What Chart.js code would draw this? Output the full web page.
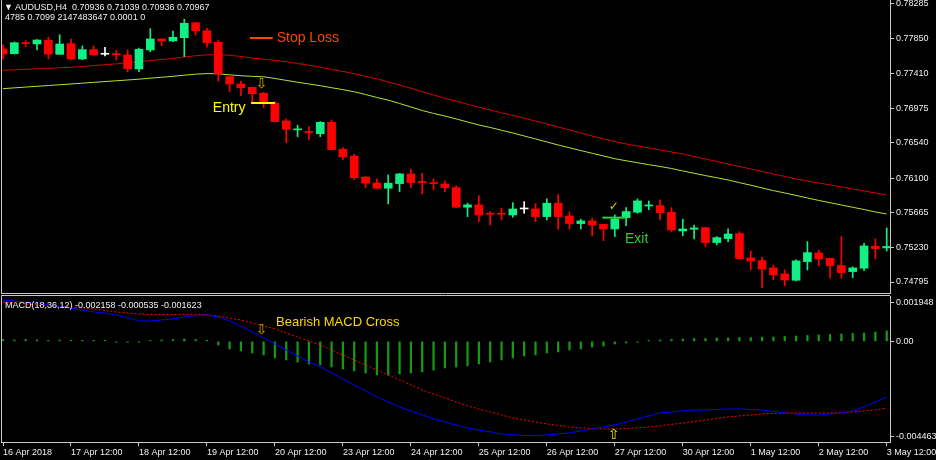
<!DOCTYPE html>
<html><head><meta charset="utf-8">
<script src="https://cdn.jsdelivr.net/npm/chart.js@4.4.1/dist/chart.umd.min.js"></script>
<style>
html,body{margin:0;padding:0;background:#000;width:936px;height:460px;overflow:hidden}
#wrap{position:relative;width:936px;height:460px;background:#000}
canvas{position:absolute;left:0}
#cA{top:0}
#cB{top:294px}
.hdr{position:absolute;color:#f0f0f0;font:9px "Liberation Sans",Arial,sans-serif;white-space:pre;line-height:11px}
</style></head>
<body><div id="wrap">
<canvas id="cA" width="936" height="294"></canvas>
<canvas id="cB" width="936" height="166"></canvas>
<div class="hdr" style="left:4px;top:2px">▼ AUDUSD,H4  0.70936 0.71039 0.70936 0.70967</div>
<div class="hdr" style="left:5px;top:12px">4785 0.7099 2147483647 0.0001 0</div>
<div class="hdr" style="left:5px;top:300px">MACD(18,36,12) -0.002158 -0.000535 -0.001623</div>
</div>
<script>
// ---------- DATA ----------
const bars = Array.from({length:79},(_, i)=>i);
const opens = [0.77721,0.77661,0.77795,0.77783,0.77829,0.77653,0.77787,0.77595,0.77712,0.77654,
0.77655,0.77645,0.77469,0.77708,0.77846,0.77821,0.77862,0.78050,0.77950,0.77804,
0.77373,0.77281,0.77240,0.77164,0.77039,0.76817,0.76705,0.76679,0.76657,0.76800,
0.76462,0.76374,0.76114,0.76039,0.75972,0.76030,0.76152,0.76051,0.76039,0.76026,
0.75980,0.75734,0.75763,0.75652,0.75652,0.75637,0.75712,0.75712,0.75616,0.75784,
0.75624,0.75528,0.75562,0.75520,0.75461,0.75603,0.75671,0.75750,0.75754,0.75671,
0.75436,0.75457,0.75478,0.75290,0.75340,0.75403,0.75097,0.75063,0.74972,0.74896,
0.74817,0.75051,0.75160,0.75093,0.75001,0.74926,0.74968,0.75244,0.75223];
const highs = [0.77771,0.77808,0.77824,0.77839,0.77867,0.77900,0.77846,0.77758,0.77758,0.77742,
0.77699,0.77708,0.77733,0.77975,0.77846,0.77946,0.78093,0.78050,0.77980,0.77833,
0.77373,0.77316,0.77240,0.77177,0.77059,0.76842,0.76763,0.76745,0.76808,0.76829,
0.76482,0.76399,0.76114,0.76089,0.76139,0.76158,0.76214,0.76160,0.76089,0.76064,
0.76005,0.75784,0.75876,0.75679,0.75721,0.75791,0.75804,0.75778,0.75838,0.75892,
0.75675,0.75583,0.75595,0.75520,0.75637,0.75729,0.75838,0.75813,0.75825,0.75729,
0.75583,0.75511,0.75478,0.75365,0.75461,0.75428,0.75185,0.75106,0.75006,0.74947,
0.75072,0.75302,0.75194,0.75093,0.75365,0.74985,0.75282,0.75336,0.75474];
const lows = [0.77595,0.77657,0.77749,0.77708,0.77595,0.77651,0.77582,0.77586,0.77641,0.77632,
0.77582,0.77435,0.77435,0.77686,0.77762,0.77812,0.77624,0.77896,0.77742,0.77319,
0.77184,0.77134,0.77039,0.76984,0.76804,0.76544,0.76620,0.76578,0.76620,0.76453,
0.76327,0.76080,0.75980,0.75963,0.75775,0.75930,0.75980,0.75901,0.75951,0.75930,
0.75729,0.75616,0.75553,0.75511,0.75574,0.75608,0.75658,0.75553,0.75574,0.75458,
0.75461,0.75461,0.75373,0.75314,0.75365,0.75503,0.75658,0.75704,0.75574,0.75428,
0.75377,0.75336,0.75239,0.75261,0.75302,0.75085,0.74947,0.74725,0.74821,0.74746,
0.74809,0.74947,0.74997,0.74842,0.74842,0.74850,0.74938,0.75085,0.75185];
const closes = [0.77657,0.77799,0.77788,0.77833,0.77657,0.77783,0.77595,0.77712,0.77645,0.77654,
0.77649,0.77473,0.77717,0.77846,0.77821,0.77867,0.78043,0.77950,0.77799,0.77407,
0.77281,0.77235,0.77159,0.77043,0.76808,0.76713,0.76710,0.76671,0.76800,0.76457,
0.76365,0.76105,0.76035,0.75972,0.76035,0.76152,0.76043,0.76044,0.76031,0.75980,
0.75734,0.75763,0.75637,0.75646,0.75646,0.75712,0.75712,0.75616,0.75784,0.75616,
0.75528,0.75562,0.75511,0.75461,0.75587,0.75679,0.75813,0.75756,0.75666,0.75449,
0.75461,0.75474,0.75290,0.75352,0.75398,0.75089,0.75060,0.74959,0.74884,0.74821,
0.75060,0.75164,0.75085,0.75001,0.74913,0.74972,0.75248,0.75214,0.75241];
const maRed = [0.77453,0.77459,0.77465,0.77472,0.77478,0.77484,0.77490,0.77500,0.77512,0.77523,
0.77534,0.77547,0.77559,0.77575,0.77588,0.77603,0.77620,0.77635,0.77647,0.77651,
0.77641,0.77626,0.77607,0.77591,0.77578,0.77559,0.77538,0.77516,0.77492,0.77463,
0.77438,0.77409,0.77377,0.77346,0.77306,0.77268,0.77227,0.77184,0.77143,0.77101,
0.77064,0.77026,0.76990,0.76955,0.76919,0.76886,0.76850,0.76816,0.76779,0.76741,
0.76704,0.76666,0.76628,0.76591,0.76559,0.76528,0.76503,0.76478,0.76453,0.76427,
0.76402,0.76371,0.76340,0.76308,0.76277,0.76245,0.76214,0.76183,0.76151,0.76120,
0.76089,0.76063,0.76038,0.76013,0.75988,0.75963,0.75938,0.75913,0.75888];
const maGreen = [0.77222,0.77232,0.77242,0.77252,0.77261,0.77271,0.77281,0.77291,0.77301,0.77311,
0.77321,0.77331,0.77341,0.77354,0.77365,0.77377,0.77391,0.77404,0.77411,0.77409,
0.77396,0.77384,0.77377,0.77371,0.77350,0.77326,0.77303,0.77281,0.77259,0.77234,
0.77210,0.77182,0.77149,0.77111,0.77078,0.77036,0.76992,0.76948,0.76911,0.76879,
0.76842,0.76804,0.76766,0.76735,0.76700,0.76666,0.76628,0.76591,0.76553,0.76515,
0.76480,0.76445,0.76411,0.76377,0.76343,0.76317,0.76292,0.76268,0.76245,0.76220,
0.76189,0.76160,0.76131,0.76104,0.76076,0.76042,0.76010,0.75976,0.75942,0.75913,
0.75882,0.75850,0.75819,0.75790,0.75762,0.75733,0.75705,0.75674,0.75649];
const macdHist = [0.000083,0.000061,0.000083,0.000061,0.000040,0.000061,0.000040,0.000018,0.000040,0.000018,
-0.000004,-0.000026,-0.000004,0.000018,0.000061,0.000083,0.000105,0.000083,0.000018,-0.000158,
-0.000334,-0.000421,-0.000509,-0.000597,-0.000729,-0.000817,-0.000904,-0.000992,-0.001036,-0.001124,
-0.001212,-0.001299,-0.001387,-0.001475,-0.001475,-0.001431,-0.001387,-0.001343,-0.001256,-0.001168,
-0.001124,-0.001080,-0.000992,-0.000904,-0.000817,-0.000729,-0.000641,-0.000597,-0.000509,-0.000465,
-0.000378,-0.000334,-0.000246,-0.000202,-0.000114,-0.000070,-0.000004,0.000040,0.000061,0.000083,
0.000105,0.000127,0.000127,0.000149,0.000149,0.000171,0.000171,0.000193,0.000193,0.000215,
0.000237,0.000259,0.000281,0.000303,0.000325,0.000347,0.000369,0.000413,0.000457];
const macdMain = [0.001817,0.001774,0.001730,0.001686,0.001598,0.001532,0.001466,0.001378,0.001291,0.001247,
0.001159,0.001027,0.000896,0.000896,0.000939,0.000983,0.001071,0.001137,0.001159,0.001071,
0.000896,0.000676,0.000413,0.000149,-0.000114,-0.000378,-0.000641,-0.000904,-0.001124,-0.001387,
-0.001651,-0.001914,-0.002177,-0.002441,-0.002660,-0.002880,-0.003055,-0.003231,-0.003407,-0.003538,
-0.003670,-0.003802,-0.003890,-0.003977,-0.004065,-0.004109,-0.004131,-0.004131,-0.004109,-0.004065,
-0.004021,-0.003933,-0.003846,-0.003758,-0.003670,-0.003538,-0.003407,-0.003275,-0.003143,-0.003099,
-0.003055,-0.003012,-0.003012,-0.002990,-0.002968,-0.002968,-0.002990,-0.003012,-0.003077,-0.003143,
-0.003187,-0.003231,-0.003231,-0.003187,-0.003143,-0.003055,-0.002880,-0.002660,-0.002441];
const macdSignal = [0.001730,0.001686,0.001642,0.001598,0.001554,0.001532,0.001510,0.001466,0.001422,0.001357,
0.001291,0.001247,0.001203,0.001181,0.001181,0.001181,0.001190,0.001190,0.001159,0.001115,
0.001027,0.000939,0.000808,0.000676,0.000544,0.000369,0.000193,0.000018,-0.000158,-0.000378,
-0.000597,-0.000817,-0.001036,-0.001256,-0.001475,-0.001695,-0.001914,-0.002134,-0.002309,-0.002485,
-0.002660,-0.002836,-0.002968,-0.003099,-0.003231,-0.003363,-0.003451,-0.003538,-0.003626,-0.003692,
-0.003758,-0.003802,-0.003824,-0.003846,-0.003846,-0.003824,-0.003802,-0.003758,-0.003714,-0.003648,
-0.003582,-0.003516,-0.003451,-0.003385,-0.003319,-0.003275,-0.003231,-0.003187,-0.003165,-0.003143,
-0.003143,-0.003143,-0.003143,-0.003143,-0.003121,-0.003099,-0.003055,-0.003012,-0.002924];
const xTickBars = [0,6,12,18,24,30,36,42,48,54,60,66,72,78];
const xTickLabels = ['16 Apr 2018','17 Apr 12:00','18 Apr 12:00','19 Apr 12:00','20 Apr 12:00','23 Apr 12:00','24 Apr 12:00','25 Apr 12:00','26 Apr 12:00','27 Apr 12:00','30 Apr 12:00','1 May 12:00','2 May 12:00','3 May 12:00'];
const priceTicks = [0.78285,0.77850,0.77410,0.76975,0.76540,0.76100,0.75665,0.75230,0.74795];
const macdTickLabels = ['0.001948','0.00','-0.004463'];
const macdTickAt = [0.001698,0,-0.004186];
// annotations (data coordinates: bar index, price/value)
const stopLossNote = {text:'Stop Loss', from:21.8, to:23.8, price:0.77858};
const entryNote = {text:'Entry', from:21.9, to:24.0, price:0.77042, textBar:21.4, textPrice:0.76980};
const exitNote = {text:'Exit', from:52.9, to:55.0, price:0.75603, textBar:54.9, textPrice:0.75336};
const entryArrow = {bar:22.8, price:0.77281};
const exitCheck = {bar:53.9, price:0.75737};
const macdNote = {text:'Bearish MACD Cross', bar:24.1, value:0.000838};
const macdArrowDown = {bar:22.8, value:0.000500};
const macdArrowUp = {bar:53.9, value:-0.004109};

// ---------- STYLE ----------
const UP='#12ef85', DN='#ff0000', DOJI='#ffffff', AXIS='#c8c8c8', TXT='#f0f0f0';
const FONT = {family:'"Liberation Sans", Arial, sans-serif', size:9};
function cColor(i){ return closes[i]>opens[i]?UP:(closes[i]<opens[i]?DN:DOJI); }
const XMIN=-0.09, XMAX=78.29;
function noPad(s){ s.paddingTop=0; s.paddingBottom=0; s.paddingLeft=0; s.paddingRight=0; }

const framePlugin = {id:'frame', beforeDatasetsDraw(c, a, o){
  const ar=c.chartArea, ctx=c.ctx; ctx.save(); ctx.strokeStyle=AXIS; ctx.lineWidth=1; ctx.beginPath();
  if(o.left){ctx.moveTo(ar.left-0.5, ar.top-1); ctx.lineTo(ar.left-0.5, ar.bottom+1);}
  if(o.top){ctx.moveTo(ar.left-1, ar.top-0.5); ctx.lineTo(ar.right, ar.top-0.5);}
  if(o.bottom){ctx.moveTo(ar.left-1, ar.bottom+0.5); ctx.lineTo(ar.right, ar.bottom+0.5);}
  ctx.stroke(); ctx.restore();
}};

function hline(ctx, xs, x1, x2, yv, color, w){
  ctx.strokeStyle=color; ctx.lineWidth=w; ctx.beginPath();
  ctx.moveTo(xs.getPixelForValue(x1), yv); ctx.lineTo(xs.getPixelForValue(x2), yv); ctx.stroke();
}

const annA = {id:'annA', afterDatasetsDraw(c){
  const ctx=c.ctx, xs=c.scales.x, ys=c.scales.y; ctx.save();
  let py = ys.getPixelForValue(stopLossNote.price);
  hline(ctx, xs, stopLossNote.from, stopLossNote.to, py, '#ff4500', 2);
  ctx.font='14px "Liberation Sans", Arial, sans-serif'; ctx.textBaseline='middle';
  ctx.fillStyle='#ff4500'; ctx.textAlign='left';
  ctx.fillText(stopLossNote.text, xs.getPixelForValue(stopLossNote.to)+4, py);
  py = ys.getPixelForValue(entryNote.price);
  hline(ctx, xs, entryNote.from, entryNote.to, py, '#ffff00', 2);
  ctx.fillStyle='#ffff00'; ctx.textAlign='right';
  ctx.fillText(entryNote.text, xs.getPixelForValue(entryNote.textBar), ys.getPixelForValue(entryNote.textPrice));
  py = ys.getPixelForValue(exitNote.price);
  hline(ctx, xs, exitNote.from, exitNote.to, py, '#32cd32', 2);
  ctx.fillStyle='#32cd32'; ctx.textAlign='left';
  ctx.fillText(exitNote.text, xs.getPixelForValue(exitNote.textBar), ys.getPixelForValue(exitNote.textPrice));
  ctx.textAlign='center'; ctx.font='14px "DejaVu Sans", sans-serif';
  ctx.fillStyle='#d4a800';
  ctx.fillText('⇩', xs.getPixelForValue(entryArrow.bar), ys.getPixelForValue(entryArrow.price));
  ctx.font='12px "DejaVu Sans", sans-serif';
  ctx.fillStyle='#e8d000';
  ctx.fillText('✓', xs.getPixelForValue(exitCheck.bar), ys.getPixelForValue(exitCheck.price));
  ctx.restore();
}};

const annB = {id:'annB', afterDatasetsDraw(c){
  const ctx=c.ctx, xs=c.scales.x, ys=c.scales.y; ctx.save();
  ctx.font='13px "Liberation Sans", Arial, sans-serif'; ctx.textBaseline='middle'; ctx.textAlign='left';
  ctx.fillStyle='#ffd700';
  ctx.fillText(macdNote.text, xs.getPixelForValue(macdNote.bar), ys.getPixelForValue(macdNote.value));
  ctx.textAlign='center'; ctx.font='14px "DejaVu Sans", sans-serif';
  ctx.fillStyle='#c8a400';
  ctx.fillText('⇩', xs.getPixelForValue(macdArrowDown.bar), ys.getPixelForValue(macdArrowDown.value));
  ctx.fillStyle='#e6e600';
  ctx.fillText('⇧', xs.getPixelForValue(macdArrowUp.bar), ys.getPixelForValue(macdArrowUp.value));
  ctx.restore();
}};

const yAxisBase = (extra) => Object.assign({
  position:'right', afterFit(s){ s.width=46; noPad(s); },
  grid:{drawOnChartArea:false, drawTicks:true, tickLength:4, color:AXIS, tickColor:AXIS},
  border:{display:true, color:AXIS}
}, extra);

new Chart(document.getElementById('cA'), {
  type:'bar',
  data:{datasets:[
    {type:'line', data:bars.map(i=>({x:i,y:maRed[i]})), borderColor:'#d40000', borderWidth:1, pointRadius:0, order:3},
    {type:'line', data:bars.map(i=>({x:i,y:maGreen[i]})), borderColor:'#b4e234', borderWidth:1, pointRadius:0, order:3},
    {type:'bar', data:bars.map(i=>({x:i,y:[lows[i],highs[i]]})), barThickness:1, grouped:false,
      backgroundColor:c=>cColor(c.dataIndex), borderWidth:0, order:2},
    {type:'bar', data:bars.map(i=>({x:i,y:[opens[i],closes[i]]})), barThickness:8, grouped:false, minBarLength:1,
      backgroundColor:c=>cColor(c.dataIndex), borderWidth:0, order:1}
  ]},
  options:{
    responsive:false, animation:false, events:[],
    layout:{padding:{left:2, top:0, right:0, bottom:1}},
    plugins:{legend:{display:false}, tooltip:{enabled:false}, frame:{left:true, bottom:true}},
    scales:{
      x:{type:'linear', offset:false, min:XMIN, max:XMAX, display:false},
      y:yAxisBase({min:0.74657, max:0.78335,
        afterBuildTicks(s){ s.ticks = priceTicks.map(v=>({value:v})); },
        ticks:{color:TXT, font:FONT, padding:2, autoSkip:false, callback:v=>v.toFixed(5)}})
    }
  },
  plugins:[framePlugin, annA]
});

new Chart(document.getElementById('cB'), {
  type:'bar',
  data:{datasets:[
    {type:'line', data:bars.map(i=>({x:i,y:macdMain[i]})), borderColor:'#0000ff', borderWidth:1, pointRadius:0, order:1},
    {type:'line', data:bars.map(i=>({x:i,y:macdSignal[i]})), borderColor:'#ff0000', borderWidth:1, borderDash:[2,2], pointRadius:0, order:1},
    {type:'bar', data:bars.map(i=>({x:i,y:macdHist[i]})), barThickness:1.6, grouped:false, minBarLength:1,
      backgroundColor:'#169a16', borderWidth:0, order:2}
  ]},
  options:{
    responsive:false, animation:false, events:[],
    layout:{padding:{left:2, top:2, right:0, bottom:0}},
    plugins:{legend:{display:false}, tooltip:{enabled:false}, frame:{left:true, top:true}},
    scales:{
      x:{type:'linear', offset:false, min:XMIN, max:XMAX, position:'bottom', afterFit(s){ s.height=18; noPad(s); },
        afterBuildTicks(s){ s.ticks = xTickBars.map(v=>({value:v})); },
        grid:{drawOnChartArea:false, drawTicks:true, tickLength:4, color:AXIS, tickColor:AXIS, offset:false},
        border:{display:true, color:AXIS},
        ticks:{color:TXT, font:FONT, padding:1, align:'start', maxRotation:0, autoSkip:false,
          callback:(v,idx)=>xTickLabels[idx]}},
      y:yAxisBase({min:-0.004419, max:0.001992,
        afterBuildTicks(s){ s.ticks = macdTickAt.map(v=>({value:v})); },
        ticks:{color:TXT, font:FONT, padding:2, autoSkip:false, callback:(v,idx)=>macdTickLabels[idx]}})
    }
  },
  plugins:[framePlugin, annB]
});
</script>
</body></html>
